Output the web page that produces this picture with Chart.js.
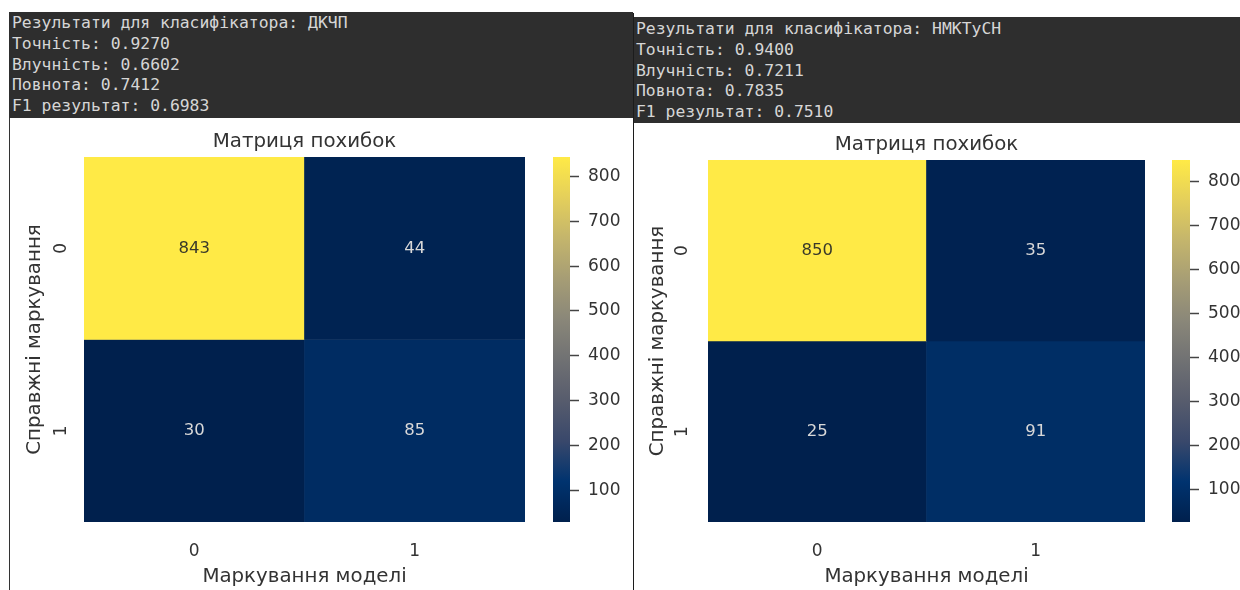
<!DOCTYPE html>
<html>
<head>
<meta charset="utf-8">
<script src="https://cdn.jsdelivr.net/npm/chart.js@4.4.1/dist/chart.umd.min.js"></script>
<style>
  body { margin: 0; width: 1240px; height: 590px; background: #fff; position: relative; overflow: hidden; }
  .out {
    position: absolute; box-sizing: border-box; background: #2e2e2e; color: #d6d6d6;
    font: 16.4px/20.8px "DejaVu Sans Mono", monospace; white-space: pre; padding-left: 3px;
  }
  .rule { position: absolute; width: 1px; background: #333; }
  canvas { position: absolute; }
</style>
</head>
<body>
<div id="out-a" class="out" style="left:9px;top:12px;width:624px;height:106px;padding-top:1px"></div>
<div id="out-b" class="out" style="left:633px;top:17px;width:607px;height:106px;padding-top:2px"></div>
<div class="rule" style="left:9px;top:118px;height:472px"></div>
<div class="rule" style="left:633px;top:13px;height:577px;background:#1c1c1c"></div>

<canvas id="heat-a" width="515" height="471" style="left:10px;top:119px"></canvas>
<canvas id="bar-a" width="80" height="471" style="left:553px;top:119px"></canvas>
<canvas id="heat-b" width="511" height="466" style="left:634px;top:124px"></canvas>
<canvas id="bar-b" width="68" height="466" style="left:1172px;top:124px"></canvas>

<script>
// classifier results
const classifierNames = ['ДКЧП', 'НМКТуСН'];
const metricNames = ['Точність', 'Влучність', 'Повнота', 'F1 результат'];
const metricsDkchp = [0.9270, 0.6602, 0.7412, 0.6983];
const metricsNmktusn = [0.9400, 0.7211, 0.7835, 0.7510];

// confusion matrices (rows = true label, cols = predicted)
const classLabels = ['0', '1'];
const matrixDkchp = [[843, 44], [30, 85]];
const matrixNmktusn = [[850, 35], [25, 91]];
const colorbarTicks = [100, 200, 300, 400, 500, 600, 700, 800];

const FONT = '"DejaVu Sans", sans-serif';
const INK = '#333';

// cividis, 10 evenly spaced samples
const cividisStops = ['#00204d', '#00336f', '#39486b', '#575c6d', '#707173',
                      '#8a8779', '#a69d75', '#c4b56c', '#e4cf5b', '#ffea46'];

function hexToRgb(h) {
    return [1, 3, 5].map(i => parseInt(h.slice(i, i + 2), 16));
}

function cividis(t) {
    t = Math.min(1, Math.max(0, t));
    const pos = t * (cividisStops.length - 1);
    const i = Math.min(Math.floor(pos), cividisStops.length - 2);
    const f = pos - i;
    const a = hexToRgb(cividisStops[i]);
    const b = hexToRgb(cividisStops[i + 1]);
    const c = a.map((v, k) => Math.round(v + (b[k] - v) * f));
    return `rgb(${c[0]}, ${c[1]}, ${c[2]})`;
}

// printed metrics above each heatmap
function writeResults(id, name, values) {
    const lines = [`Результати для класифікатора: ${name}`];
    metricNames.forEach((m, i) => lines.push(`${m}: ${values[i].toFixed(4)}`));
    document.getElementById(id).textContent = lines.join('\n');
}

// numbers written in the middle of each cell
const cellValues = {
    id: 'cellValues',
    afterDatasetsDraw(chart, args, opts) {
        const ctx = chart.ctx;
        ctx.save();
        ctx.font = '16.5px ' + FONT;
        ctx.textAlign = 'center';
        ctx.textBaseline = 'middle';
        chart.data.datasets.forEach((ds, r) => {
            chart.getDatasetMeta(r).data.forEach((bar, c) => {
                const v = opts.matrix[r][c];
                const t = (v - opts.vmin) / (opts.vmax - opts.vmin);
                ctx.fillStyle = t > 0.5 ? '#3a3a2a' : '#d8d8d8';
                ctx.fillText(String(v), bar.x, (bar.y + bar.base) / 2);
            });
        });
        ctx.restore();
    }
};

function drawMatrix(heatId, barId, matrix, lay) {
    const flat = matrix.flat();
    const vmin = Math.min(...flat);
    const vmax = Math.max(...flat);

    new Chart(document.getElementById(heatId), {
        type: 'bar',
        data: {
            labels: classLabels,
            datasets: matrix.map((row, r) => ({
                data: row.map(() => [r, r + 1]),
                backgroundColor: row.map(v => cividis((v - vmin) / (vmax - vmin))),
                borderWidth: 0,
                grouped: false,
                barPercentage: 1,
                categoryPercentage: 1
            }))
        },
        options: {
            responsive: false,
            animation: false,
            devicePixelRatio: 1,
            layout: { padding: 0 },
            plugins: {
                legend: { display: false },
                tooltip: { enabled: false },
                title: {
                    display: true,
                    fullSize: false,
                    text: 'Матриця похибок',
                    color: INK,
                    font: { family: FONT, size: 19.8, weight: 'normal' },
                    padding: { top: lay.titleTop, bottom: lay.titleBottom }
                },
                cellValues: { matrix, vmin, vmax }
            },
            scales: {
                x: {
                    type: 'category',
                    grid: { display: false },
                    border: { display: false },
                    ticks: { color: INK, font: { family: FONT, size: 17 }, padding: 11 },
                    title: {
                        display: true,
                        text: 'Маркування моделі',
                        color: INK,
                        font: { family: FONT, size: 19.8 },
                        padding: { top: 0, bottom: 1.2 }
                    },
                    afterFit: s => { s.height = lay.xAxisH; }
                },
                y: {
                    type: 'linear',
                    min: 0,
                    max: classLabels.length,
                    reverse: true,
                    grid: { display: false },
                    border: { display: false },
                    afterBuildTicks: s => { s.ticks = classLabels.map((_, i) => ({ value: i + 0.5 })); },
                    ticks: {
                        color: INK,
                        font: { family: FONT, size: 17 },
                        minRotation: 90,
                        maxRotation: 90,
                        crossAlign: 'center',
                        padding: lay.yTickPad,
                        callback: (v, i) => classLabels[i]
                    },
                    title: {
                        display: true,
                        text: 'Справжні маркування',
                        color: INK,
                        font: { family: FONT, size: 19.8 },
                        padding: { top: lay.yTitlePad, bottom: 0 }
                    },
                    afterFit: s => { s.width = lay.yAxisW; }
                }
            }
        },
        plugins: [cellValues]
    });

    // colour bar
    new Chart(document.getElementById(barId), {
        type: 'bar',
        data: {
            labels: [''],
            datasets: [{
                data: [[vmin, vmax]],
                borderWidth: 0,
                barPercentage: 1,
                categoryPercentage: 1,
                backgroundColor: ctx => {
                    const area = ctx.chart.chartArea;
                    if (!area) return cividis(0.5);
                    const g = ctx.chart.ctx.createLinearGradient(0, area.bottom, 0, area.top);
                    cividisStops.forEach((c, i) => g.addColorStop(i / (cividisStops.length - 1), c));
                    return g;
                }
            }]
        },
        options: {
            responsive: false,
            animation: false,
            devicePixelRatio: 1,
            layout: { padding: { top: lay.barTop, bottom: lay.xAxisH } },
            plugins: { legend: { display: false }, tooltip: { enabled: false } },
            scales: {
                x: { display: false },
                y: {
                    type: 'linear',
                    position: 'right',
                    min: vmin,
                    max: vmax,
                    border: { display: false },
                    grid: {
                        drawOnChartArea: false,
                        drawTicks: true,
                        tickLength: 9,
                        tickColor: '#444',
                        tickWidth: 1.5
                    },
                    afterBuildTicks: s => { s.ticks = colorbarTicks.map(v => ({ value: v })); },
                    ticks: { color: INK, font: { family: FONT, size: 17 }, padding: 9 },
                    afterFit: s => { s.width = lay.barAxisW; }
                }
            }
        }
    });
}

writeResults('out-a', classifierNames[0], metricsDkchp);
writeResults('out-b', classifierNames[1], metricsNmktusn);

drawMatrix('heat-a', 'bar-a', matrixDkchp, {
    titleTop: 10.6, titleBottom: 3.6, xAxisH: 68, yAxisW: 74,
    yTickPad: 9, yTitlePad: 13.2, barTop: 38, barAxisW: 63
});
drawMatrix('heat-b', 'bar-b', matrixNmktusn, {
    titleTop: 9.1, titleBottom: 3.1, xAxisH: 68, yAxisW: 74,
    yTickPad: 12, yTitlePad: 12.2, barTop: 36, barAxisW: 50
});
</script>
</body>
</html>
